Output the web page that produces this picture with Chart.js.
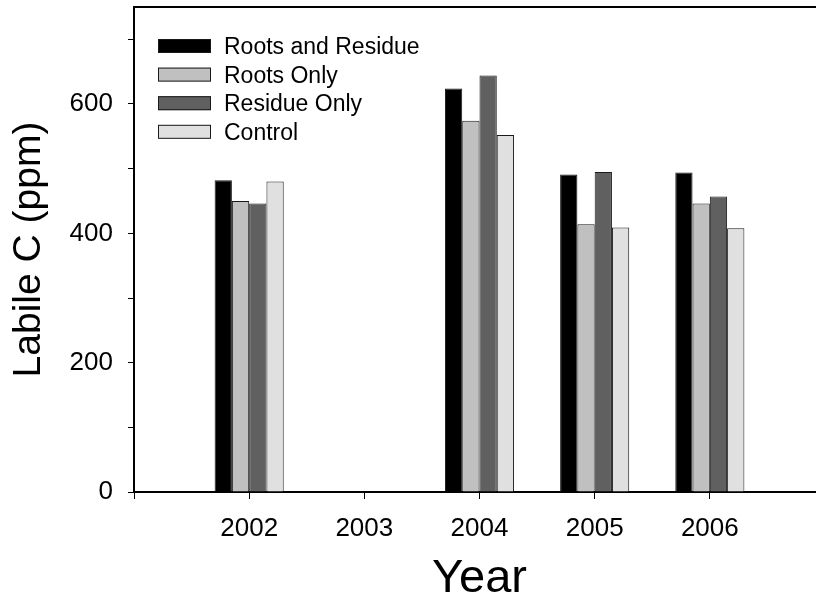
<!DOCTYPE html>
<html>
<head>
<meta charset="utf-8">
<script src="https://cdn.jsdelivr.net/npm/chart.js@4/dist/chart.umd.min.js"></script>
<style>
  html, body { margin: 0; padding: 0; background: #fff; overflow: hidden; }
  #wrap { width: 816px; height: 607px; overflow: hidden; position: relative; }
  canvas { display: block; }
</style>
</head>
<body>
<div id="wrap"><canvas id="c" width="830" height="607"></canvas></div>
<script>
// Sampling years (no samples were taken in 2003)
const years = [2002, 2003, 2004, 2005, 2006];

// Labile C (ppm) by treatment
const rootsAndResidue = [482, null, 624, 491, 494];
const rootsOnly       = [450, null, 574, 414, 446];
const residueOnly     = [446, null, 644, 495, 457];
const control         = [480, null, 552, 409, 408];

// Axis ranges and labelled ticks
const yearRange = [2001, 2007];
const yMax = 750;
const yLabelStep = 200;

const FONT = '"Liberation Sans", Arial, Helvetica, sans-serif';

function points(values) {
  return years.map((yr, i) => ({ x: yr, y: values[i] }));
}

const series = [
  { label: 'Roots and Residue', values: rootsAndResidue, color: '#000000' },
  { label: 'Roots Only',        values: rootsOnly,       color: '#c0c0c0' },
  { label: 'Residue Only',      values: residueOnly,     color: '#606060' },
  { label: 'Control',           values: control,         color: '#e0e0e0' }
];

// Legend drawn inside the plot, top-left corner
const boxLegend = {
  id: 'boxLegend',
  afterDraw(chart) {
    const { ctx, chartArea } = chart;
    const x0 = chartArea.left + 24;
    const y0 = chartArea.top + 32;
    const rowH = 28.6;
    const boxW = 53, boxH = 14;
    ctx.save();
    ctx.font = '23px ' + FONT;
    ctx.textBaseline = 'alphabetic';
    ctx.textAlign = 'left';
    chart.data.datasets.forEach((ds, i) => {
      const y = y0 + i * rowH;
      ctx.fillStyle = ds.backgroundColor;
      ctx.fillRect(x0, y, boxW, boxH);
      ctx.lineWidth = 1;
      ctx.strokeStyle = '#1a1a1a';
      ctx.strokeRect(x0 + 0.5, y + 0.5, boxW - 1, boxH - 1);
      ctx.fillStyle = '#000';
      ctx.fillText(ds.label, x0 + 66, y + 15);
    });
    ctx.restore();
  }
};

function noEdgePadding(s) {
  s.paddingTop = 0; s.paddingBottom = 0; s.paddingLeft = 0; s.paddingRight = 0;
}

new Chart(document.getElementById('c'), {
  type: 'bar',
  data: {
    datasets: series.map(s => ({
      label: s.label,
      data: points(s.values),
      backgroundColor: s.color,
      borderColor: '#1a1a1a',
      borderWidth: 1,
      categoryPercentage: 0.6,
      barPercentage: 1.0
    }))
  },
  options: {
    responsive: false,
    devicePixelRatio: 1,
    animation: false,
    // the plot frame runs on past the right edge of the visible page
    layout: { padding: { top: 7, right: 5, left: 0, bottom: 0 } },
    plugins: {
      legend: { display: false },
      tooltip: { enabled: false }
    },
    scales: {
      x: {
        type: 'linear',
        position: 'bottom',
        offset: false,
        min: yearRange[0],
        max: yearRange[1],
        afterFit(s) { s.height = 115; noEdgePadding(s); },
        ticks: {
          stepSize: 1,
          color: '#000',
          padding: 14,
          maxRotation: 0,
          font: { family: FONT, size: 26 },
          callback: v => (years.includes(v) ? String(v) : '')
        },
        grid: { offset: false, drawOnChartArea: false, drawTicks: true, tickLength: 7, color: '#000', lineWidth: 1 },
        border: { display: true, color: '#000', width: 2 },
        title: {
          display: true,
          text: 'Year',
          color: '#000',
          font: { family: FONT, size: 47 },
          padding: 0
        }
      },
      xTop: {
        type: 'linear',
        position: 'top',
        offset: false,
        min: yearRange[0],
        max: yearRange[1],
        afterFit(s) { s.height = 0; noEdgePadding(s); },
        ticks: { display: false },
        grid: { offset: false, drawOnChartArea: false, drawTicks: false, color: '#000' },
        border: { display: true, color: '#000', width: 2 }
      },
      y: {
        type: 'linear',
        position: 'left',
        min: 0,
        max: yMax,
        afterFit(s) { s.width = 134; noEdgePadding(s); },
        ticks: {
          stepSize: 50,
          color: '#000',
          padding: 15,
          font: { family: FONT, size: 26 },
          callback: v => (v % yLabelStep === 0 ? String(v) : '')
        },
        grid: {
          drawOnChartArea: false,
          drawTicks: true,
          tickLength: 6,
          lineWidth: 1,
          tickColor: c => (c.tick && c.tick.value === yMax ? 'rgba(0,0,0,0)' : '#000')
        },
        border: { display: true, color: '#000', width: 2 },
        title: {
          display: true,
          text: 'Labile C (ppm)',
          color: '#000',
          font: { family: FONT, size: 39 },
          padding: { top: 6, bottom: 0 }
        }
      }
    }
  },
  plugins: [boxLegend]
});
</script>
</body>
</html>
